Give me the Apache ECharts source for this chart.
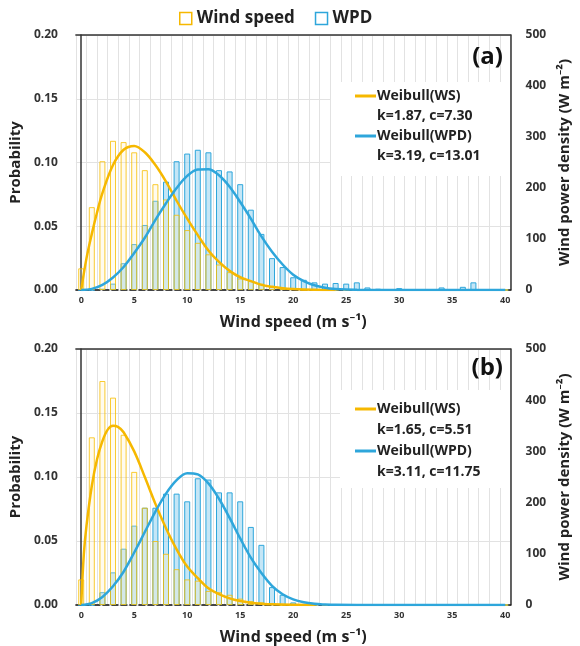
<!DOCTYPE html>
<html>
<head>
<meta charset="utf-8">
<script src="https://cdn.jsdelivr.net/npm/echarts@6/dist/echarts.min.js"></script>
<style>html,body{margin:0;padding:0;background:#fff;}#c{width:580px;height:646px;}</style>
</head>
<body>
<div id="c"></div>
<script>
// ---- data ----
var categories = [0,1,2,3,4,5,6,7,8,9,10,11,12,13,14,15,16,17,18,19,20,21,22,23,24,25,26,27,28,29,30,31,32,33,34,35,36,37,38,39,40];
var xTickLabels = ['0','5','10','15','20','25','30','35','40'];
// panel (a)
var wsA  = [0.017,0.065,0.101,0.117,0.116,0.108,0.094,0.083,0.071,0.059,0.047,0.037,0.028,0.020,0.014,0.009,0.007,0.005,0.003,0.002,0.001,0,0,0,0,0,0,0,0,0,0,0,0,0,0,0,0,0,0,0,0];
var wpdA = [0,0,0.001,0.005,0.021,0.036,0.051,0.070,0.085,0.101,0.107,0.110,0.108,0.094,0.093,0.083,0.063,0.044,0.025,0.018,0.010,0.008,0.006,0.005,0.0055,0.005,0.006,0.002,0.001,0,0.0015,0,0,0,0.002,0,0.0025,0.006,0,0,0];
var wsCurveAX  = [0,0.5,1,1.5,2,3,4,5,6,7,8,9,10,11,12,13,14,15,16,17,18,19,20,22,24];
var wsCurveAY  = [0,0.025,0.044,0.061,0.076,0.098,0.110,0.113,0.108,0.098,0.085,0.070,0.056,0.043,0.031,0.022,0.015,0.010,0.007,0.004,0.0025,0.0014,0.0008,0.0002,0];
var wpdCurveAX = [0,1,2,3,4,5,6,7,8,9,10,11,12,13,14,15,16,17,18,19,20,21,22,23,24,25,26,27,30,35,40];
var wpdCurveAY = [0,0.0009,0.004,0.0098,0.018,0.029,0.041,0.055,0.068,0.080,0.0895,0.0945,0.0948,0.090,0.081,0.069,0.056,0.042,0.030,0.020,0.012,0.007,0.0037,0.0018,0.0008,0.0003,0.0001,0,0,0,0];
// panel (b)
var wsB  = [0.020,0.131,0.175,0.162,0.133,0.104,0.076,0.050,0.040,0.028,0.020,0.019,0.011,0.010,0.008,0.005,0.003,0.002,0.001,0,0,0,0,0,0,0,0,0,0,0,0,0,0,0,0,0,0,0,0,0,0];
var wpdB = [0,0,0.010,0.0255,0.044,0.062,0.076,0.076,0.087,0.087,0.081,0.099,0.098,0.088,0.088,0.081,0.061,0.047,0.014,0.008,0.002,0,0,0,0,0,0,0,0,0,0,0,0,0,0,0,0,0,0,0,0];
var wsCurveBX  = [0,0.25,0.5,1,1.5,2,2.5,3,3.5,4,5,6,7,8,9,10,11,12,13,14,15,16,17,18,20,22];
var wsCurveBY  = [0,0.040,0.062,0.093,0.114,0.128,0.137,0.140,0.139,0.135,0.120,0.100,0.079,0.060,0.0435,0.030,0.021,0.013,0.0085,0.0052,0.0031,0.0018,0.001,0.0005,0.0001,0];
var wpdCurveBX = [0,1,2,3,4,5,6,7,8,9,10,11,12,13,14,15,16,17,18,19,20,21,22,23,24,26,30,35,40];
var wpdCurveBY = [0,0.0015,0.0063,0.0146,0.026,0.041,0.057,0.073,0.087,0.0975,0.103,0.102,0.095,0.083,0.068,0.052,0.037,0.025,0.015,0.0084,0.0044,0.0021,0.0009,0.0004,0.0001,0,0,0,0];
var probTicks = [0, 0.05, 0.10, 0.15, 0.20];
var wpdTicks = [0, 100, 200, 300, 400, 500];
var fitA = ['Weibull(WS)', 'k=1.87, c=7.30', 'Weibull(WPD)', 'k=3.19, c=13.01'];
var fitB = ['Weibull(WS)', 'k=1.65, c=5.51', 'Weibull(WPD)', 'k=3.11, c=11.75'];
var panelLabels = ['(a)', '(b)'];

// ---- styling ----
var FONT = "'Open Sans','Noto Sans',sans-serif";
var YEL = '#f6b800', BLU = '#2ea6db';
var TXT = '#222';
function pairs(xs, ys){ return xs.map(function(x,i){ return [x, ys[i]]; }); }

var grids = [
  {left: 74, top: 35, width: 438, height: 255},
  {left: 74, top: 349, width: 438, height: 256}
];

var xAxes = [], yAxes = [], series = [];
[0,1].forEach(function(g){
  xAxes.push({
    type: 'category', gridIndex: g, position: 'bottom', data: categories,
    axisLine: {lineStyle: {color: '#111', type: 'dashed', width: 1.5}},
    axisTick: {show: false},
    axisLabel: {interval: 4, fontSize: 9, fontWeight: 'bold', color: '#333', fontFamily: FONT, margin: 6},
    splitLine: {show: true, interval: 0, lineStyle: {color: '#e2e2e2', width: 1}},
    name: 'Wind speed (m s\u207B\u00B9)', nameLocation: 'middle', nameGap: 24,
    nameTextStyle: {fontSize: 16, fontWeight: 'bold', color: TXT, fontFamily: FONT}
  });
  xAxes.push({
    type: 'value', gridIndex: g, position: 'top', min: -0.5, max: 40.5,
    axisLine: {show: true, onZero: false, lineStyle: {color: '#333', width: 1.5}},
    axisTick: {show: false}, axisLabel: {show: false}, splitLine: {show: false}
  });
  yAxes.push({
    type: 'value', gridIndex: g, position: 'left', min: probTicks[0], max: probTicks[probTicks.length-1], interval: 0.05,
    axisLine: {show: true, lineStyle: {color: '#333', width: 1.5}},
    axisTick: {show: false},
    axisLabel: {formatter: function(v){ return v.toFixed(2); }, fontSize: 12, fontWeight: 'bold', color: '#333', fontFamily: FONT, margin: 18},
    splitLine: {show: true, lineStyle: {color: '#e2e2e2'}},
    name: 'Probability', nameLocation: 'middle', nameGap: 48, nameRotate: 90,
    nameTextStyle: {fontSize: 15, fontWeight: 'bold', color: TXT, fontFamily: FONT}
  });
  yAxes.push({
    type: 'value', gridIndex: g, position: 'right', min: wpdTicks[0], max: wpdTicks[wpdTicks.length-1], interval: 100,
    axisLine: {show: true, lineStyle: {color: '#333', width: 1.5}},
    axisTick: {show: false},
    axisLabel: {fontSize: 12, fontWeight: 'bold', color: '#333', fontFamily: FONT, margin: 15},
    splitLine: {show: false},
    name: 'Wind power density (W m\u207B\u00B2)', nameLocation: 'middle', nameGap: 44, nameRotate: 90,
    nameTextStyle: {fontSize: 15, fontWeight: 'bold', color: TXT, fontFamily: FONT}
  });
});

var barData = [[wpdA, wsA],[wpdB, wsB]];
var curveData = [
  [pairs(wsCurveAX, wsCurveAY), pairs(wpdCurveAX, wpdCurveAY)],
  [pairs(wsCurveBX, wsCurveBY), pairs(wpdCurveBX, wpdCurveBY)]
];
[0,1].forEach(function(g){
  series.push({
    name: 'WPD', type: 'bar', xAxisIndex: g*2, yAxisIndex: g*2, data: barData[g][0],
    barWidth: 6, barGap: '-100%', z: 2,
    itemStyle: {color: 'rgba(150,210,238,0.55)', borderColor: BLU, borderWidth: 1}
  });
  series.push({
    name: 'Wind speed', type: 'bar', xAxisIndex: g*2, yAxisIndex: g*2, data: barData[g][1],
    barWidth: 6, barGap: '-100%', z: 3,
    itemStyle: {color: 'rgba(255,238,190,0.25)', borderColor: 'rgba(248,190,0,0.8)', borderWidth: 1}
  });
  series.push({
    name: 'Weibull(WS)', type: 'line', xAxisIndex: g*2+1, yAxisIndex: g*2, data: curveData[g][0],
    showSymbol: false, smooth: 0.35, z: 5,
    lineStyle: {color: YEL, width: 2.5}
  });
  series.push({
    name: 'Weibull(WPD)', type: 'line', xAxisIndex: g*2+1, yAxisIndex: g*2, data: curveData[g][1],
    showSymbol: false, smooth: 0.35, z: 6,
    lineStyle: {color: BLU, width: 2.5}
  });
});

function fitBlock(texts, box, y0, dy){
  var els = [];
  els.push({type: 'rect', z: 1, shape: box, style: {fill: '#fff'}, silent: true});
  var ys = [y0, y0+dy, y0+2*dy, y0+3*dy];
  els.push({type: 'line', z: 10, shape: {x1: 355, y1: ys[0], x2: 376, y2: ys[0]}, style: {stroke: YEL, lineWidth: 3}});
  els.push({type: 'line', z: 10, shape: {x1: 355, y1: ys[2], x2: 376, y2: ys[2]}, style: {stroke: BLU, lineWidth: 3}});
  texts.forEach(function(t, i){
    els.push({type: 'text', z: 10, x: 377, y: ys[i], style: {text: t, fontSize: 14, fontWeight: 'bold', fontFamily: FONT, fill: TXT, verticalAlign: 'middle', align: 'left'}});
  });
  return els;
}
var graphics = []
  .concat(fitBlock(fitA, {x: 331, y: 82, width: 179, height: 94}, 96, 20))
  .concat(fitBlock(fitB, {x: 340, y: 390, width: 170, height: 98}, 409, 21));
graphics.push({type: 'text', z: 10, x: 503, y: 57, style: {text: panelLabels[0], fontSize: 24, fontWeight: 'bold', fontFamily: FONT, fill: '#111', align: 'right', verticalAlign: 'middle'}});
graphics.push({type: 'text', z: 10, x: 503, y: 368, style: {text: panelLabels[1], fontSize: 24, fontWeight: 'bold', fontFamily: FONT, fill: '#111', align: 'right', verticalAlign: 'middle'}});

var chart = echarts.init(document.getElementById('c'), null, {renderer: 'canvas'});
chart.setOption({
  animation: false,
  backgroundColor: '#fff',
  legend: {
    left: 174, top: 5, itemWidth: 12, itemHeight: 12, itemGap: 20, icon: 'rect',
    textStyle: {fontSize: 17, fontWeight: 'bold', color: TXT, fontFamily: FONT},
    data: [
      {name: 'Wind speed', itemStyle: {color: '#fff', borderColor: YEL, borderWidth: 1.5}},
      {name: 'WPD', itemStyle: {color: '#fff', borderColor: BLU, borderWidth: 1.5}}
    ]
  },
  grid: grids,
  xAxis: xAxes,
  yAxis: yAxes,
  series: series,
  graphic: graphics
});
</script>
</body>
</html>
